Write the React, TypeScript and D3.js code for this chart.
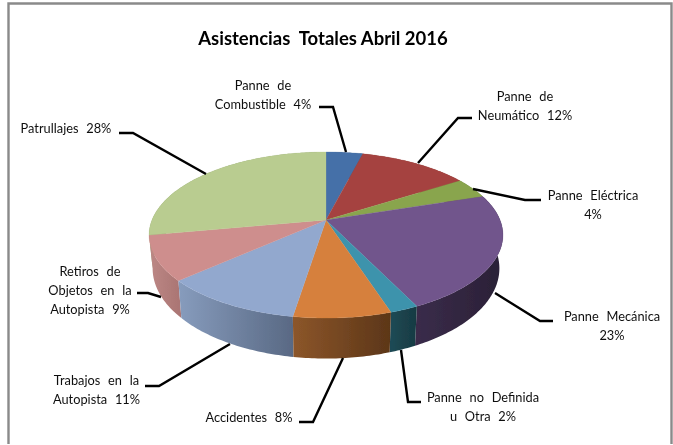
import React from "react";
import * as d3 from "d3";

const title = "Asistencias  Totales Abril 2016";
const categories = ["Panne de Combustible", "Panne de Neumático", "Panne Eléctrica", "Panne Mecánica", "Panne no Definida u Otra", "Accidentes", "Trabajos en la Autopista", "Retiros de Objetos en la Autopista", "Patrullajes"];
const values = [4, 12, 4, 22.8, 2.2, 7.5, 10.9, 8.7, 27.9];
const labelLines = [["Panne de", "Combustible"], ["Panne de", "Neumático"], ["Panne Eléctrica", ""], ["Panne Mecánica", ""], ["Panne no Definida", "u Otra"], ["Accidentes"], ["Trabajos en la", "Autopista"], ["Retiros de", "Objetos en la", "Autopista"], ["Patrullajes"]];
const topColors = ["#4570a8", "#a5433f", "#89a54e", "#71558c", "#3e93ac", "#d6803c", "#92a8ce", "#ce8e8d", "#b9cc90"];
const sideLeft = ["#34547e", "#7c322f", "#66793a", "#3a2c4a", "#1f4a55", "#8c562a", "#879cbd", "#bd8886", "#8b9a6c"];
const sideRight = ["#34547e", "#7c322f", "#66793a", "#2a2036", "#173a42", "#5c3618", "#596984", "#ab7674", "#8b9a6c"];

// Label layout: text anchor point and leader polyline.
const labelX = [263, 525, 593, 612, 483, 249, 96.5, 90, 66];
const labelY = [86, 97, 196, 317, 398, 418, 381, 272, 129];
const lineGap = 18.6;
const leaders: [number, number][][] = [
  [[319, 107], [333, 107], [346, 152]],
  [[472, 118], [458, 118], [418, 163]],
  [[541, 200], [525, 200], [473, 189]],
  [[553, 321], [540, 321], [495, 293]],
  [[401, 350], [408, 402], [421, 402]],
  [[343, 358], [313, 422], [299, 422]],
  [[230, 344], [159, 386], [145, 386]],
  [[137, 293], [148, 293], [161, 297]],
  [[119, 133], [133, 133], [206, 174]],
];

const cx = 326, cy = 220;
const A = 174, B = 80.3, K = 0.181;
const top = (a: number): [number, number] => {
  const u = Math.sin(a), v = Math.cos(a), w = 1 + K * v;
  return [cx + (A * u) / w, cy - (B * v) / w];
};
const low = (a: number): [number, number] => {
  const [x, y] = top(a);
  return [cx + 0.98 * (x - cx), 318 + 1.086 * (y - 280.7)];
};

const arcs = d3.pie<number>().sort(null).value((d) => d).startAngle(0).endAngle(2 * Math.PI)(values);
const line = d3.line();
const sample = (s: number, e: number) => {
  const n = Math.max(2, Math.ceil((e - s) / 0.015));
  return d3.range(n + 1).map((i) => s + ((e - s) * i) / n);
};
const fontFamily = "Lato, 'Open Sans', sans-serif";

export default function App() {
  const sideOrder = arcs
    .map((a, i) => ({ a, i, depth: Math.cos((a.startAngle + a.endAngle) / 2) }))
    .sort((p, q) => q.depth - p.depth);
  return (
    <svg width={673} height={445} style={{ position: "absolute", left: 0, top: 0, display: "block", background: "#fff" }}>
      <defs>
        <filter id="soft" x="-5%" y="-5%" width="110%" height="110%">
          <feGaussianBlur stdDeviation="0.5" />
        </filter>
        {arcs.map((a, i) => {
          const xs = sample(a.startAngle, a.endAngle).map((t) => top(t)[0]);
          return (
            <linearGradient key={i} id={`side${i}`} gradientUnits="userSpaceOnUse" x1={d3.min(xs)} x2={d3.max(xs)} y1={0} y2={0}>
              <stop offset="0" stopColor={sideLeft[i]} />
              <stop offset="1" stopColor={sideRight[i]} />
            </linearGradient>
          );
        })}
      </defs>
      <path d="M8.5 444V3.5H671.5V444" fill="none" stroke="#8a8a8a" strokeWidth={2.4} />
      <g filter="url(#soft)">
        {sideOrder.map(({ a, i }) => {
          const ts = sample(a.startAngle, a.endAngle);
          const pts = [...ts.map(top), ...ts.slice().reverse().map(low)];
          return <path key={i} d={line(pts) + "Z"} fill={`url(#side${i})`} />;
        })}
        {arcs.map((a, i) => {
          const pts = [[cx, cy] as [number, number], ...sample(a.startAngle, a.endAngle).map(top)];
          return <path key={i} d={line(pts) + "Z"} fill={topColors[i]} stroke={topColors[i]} strokeWidth={0.3} />;
        })}
        {leaders.map((p, i) => (
          <path key={i} d={line(p) ?? ""} fill="none" stroke="#000" strokeWidth={2.4} />
        ))}
        <text x={323} y={39} dy="0.35em" textAnchor="middle" fontFamily={fontFamily} fontWeight={700} fontSize={18.5} fill="#000" style={{ whiteSpace: "pre" }}>
          {title}
        </text>
        {categories.map((c, i) => {
          const pct = `${Math.round(values[i])}%`;
          const lines = labelLines[i].map((l, j, arr) => (j === arr.length - 1 ? (l ? `${l} ${pct}` : pct) : l));
          return (
            <text key={c} textAnchor="middle" fontFamily={fontFamily} fontSize={12.8} fill="#111" wordSpacing={4.5} style={{ whiteSpace: "pre" }}>
              {lines.map((l, j) => (
                <tspan key={j} x={labelX[i]} y={labelY[i] + j * lineGap} dy="0.35em">
                  {l}
                </tspan>
              ))}
            </text>
          );
        })}
      </g>
    </svg>
  );
}
